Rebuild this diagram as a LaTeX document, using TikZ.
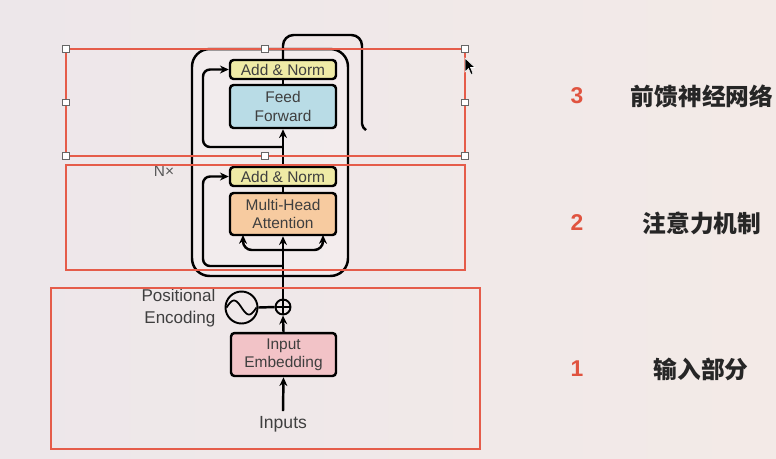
\documentclass[tikz,border=0pt]{standalone}
\usepackage{fontspec}
\setmainfont{Liberation Sans}
\newfontfamily\cjk{Noto Sans CJK SC}
\usetikzlibrary{arrows.meta}
\definecolor{SelRed}{HTML}{E55C4A}
\definecolor{NumRed}{HTML}{E0533F}
\definecolor{NormYellow}{HTML}{EFEBA6}
\definecolor{FFBlue}{HTML}{B9DCE6}
\definecolor{AttOrange}{HTML}{F7CBA0}
\definecolor{EmbPink}{HTML}{F2C3C7}
\definecolor{TextGrey}{HTML}{3F3F3F}
\definecolor{BgLeft}{HTML}{EDE7EA}
\definecolor{BgMid}{HTML}{F7E6E3}
\definecolor{BgRight}{HTML}{F3EAE7}

\tikzset{
  block/.style={draw=black, line width=1.4pt, rounded corners=2pt, minimum width=2.12cm,
    inner sep=0pt, align=center, text=TextGrey, font=\fontsize{8.8}{10.4}\selectfont},
  wire/.style={line width=1.4pt},
  flow/.style={wire, -{Stealth[length=5pt,width=4.5pt]}},
  selbox/.style={draw=SelRed, line width=1.1pt},
  handle/.style={draw=black!60, fill=white, line width=0.4pt, minimum size=0.13cm, inner sep=0pt},
  stepnum/.style={text=NumRed, font=\bfseries\fontsize{13}{15}\selectfont},
  partname/.style={text=black!85, font=\cjk\bfseries\fontsize{13.5}{16}\selectfont}
}

\begin{document}
\begin{tikzpicture}[x=0.02cm,y=-0.02cm]
  % background
  \shade[left color=BgLeft, middle color=BgMid, right color=BgRight]
    (0,0) rectangle (776,458);
  \useasboundingbox (0,0) rectangle (776,458);

  % encoder block
  \node[draw, wire, rounded corners=10pt, minimum width=3.12cm, minimum height=4.54cm,
    fill=white, fill opacity=0.2] (enc) at (270,162.5) {};
  \node[text=black!65, font=\fontsize{8.8}{10}\selectfont] (nx) at (164,171) {N×};

  \node[block, fill=NormYellow, minimum height=0.38cm] (addtop) at (283,69.5) {Add \& Norm};
  \node[block, fill=FFBlue, minimum height=0.86cm] (ff) at (283,106.5) {Feed\\Forward};
  \node[block, fill=NormYellow, minimum height=0.38cm] (addbot) at (283,176.5) {Add \& Norm};
  \node[block, fill=AttOrange, minimum height=0.84cm] (mha) at (283,214) {Multi-Head\\Attention};
  \node[block, fill=EmbPink, minimum height=0.86cm, minimum width=2.1cm] (ie) at (283.5,354.5) {Input\\Embedding};

  \node[circle, draw, line width=1.1pt, minimum size=0.3cm, inner sep=0pt] (plus) at (283,307) {};
  \node[circle, draw, line width=1.1pt, minimum size=0.64cm, inner sep=0pt] (pe) at (241.5,307.5) {};
  \node[align=right, text=TextGrey, font=\fontsize{9.7}{12.4}\selectfont] (pelabel) at (178.5,308) {Positional\\Encoding};
  \node[text=TextGrey, font=\fontsize{10}{12}\selectfont, inner sep=3pt] (inp) at (283,424.5) {Inputs};

  \coordinate (res) at (203,0);
  \coordinate (r3) at (283,147);
  \coordinate (r2) at (283,266);
  \coordinate (split) at (283,250);
  \coordinate (qin) at (243,235);
  \coordinate (vin) at (323,235);
  \coordinate (outtop) at (362,35);
  \coordinate (outbend) at (362,124);
  \coordinate (outend) at (366,130);

  % wires
  \draw[wire] (addtop.south) -- (ff.north);
  \draw[flow] (addbot.north) -- (ff.south);
  \draw[flow, rounded corners=4pt] (r3) -- (r3 -| res) |- (addtop.west);
  \draw[wire, rounded corners=6pt] (addtop.north) |- (outtop) -- (outbend);
  \draw[wire] (outbend) to[out=-90,in=135] (outend);

  \draw[wire] (mha.north) -- (addbot.south);
  \draw[wire] (plus.north) -- (split);
  \draw[flow] (split) -- (mha.south);
  \draw[flow, rounded corners=5pt] (split) -| (qin);
  \draw[flow, rounded corners=5pt] (split) -| (vin);
  \draw[flow, rounded corners=4pt] (r2) -- (r2 -| res) |- (addbot.west);

  \draw[line width=1pt] (plus.north) -- (plus.south) (plus.west) -- (plus.east);
  \draw[line width=1pt, shift={(pe.center)}] plot[domain=-1:1, samples=40, smooth] ({\x*15},{7*sin(\x*180)});
  \draw[wire] (pe.east) -- (plus.west);
  \draw[flow] (ie.north) -- (plus.south);
  \draw[flow] (inp.north) -- (ie.south);

  % selection frames
  \draw[selbox] (66,49) rectangle (465,156);
  \draw[selbox] (66,165) rectangle (465,270);
  \draw[selbox] (51,288) rectangle (480,449);
  \foreach \hx/\hy [count=\i] in {66/49, 265/49, 465/49, 66/102.5, 465/102.5, 66/156, 265/156, 465/156}
    \node[handle] (h\i) at (\hx,\hy) {};
  \fill[black, draw=white, line width=0.3pt] (465,58) -- (465,72) -- (468.5,68.5) -- (471,74.5)
    -- (473,73.5) -- (470.5,67.5) -- (475,67.5) -- cycle;

  % part labels
  \node[stepnum] (n3) at (577,96) {3};
  \node[partname] (p3) at (702,96) {前馈神经网络};
  \node[stepnum] (n2) at (577,223) {2};
  \node[partname] (p2) at (702,223) {注意力机制};
  \node[stepnum] (n1) at (577,369) {1};
  \node[partname] (p1) at (701,369) {输入部分};
\end{tikzpicture}
\end{document}
